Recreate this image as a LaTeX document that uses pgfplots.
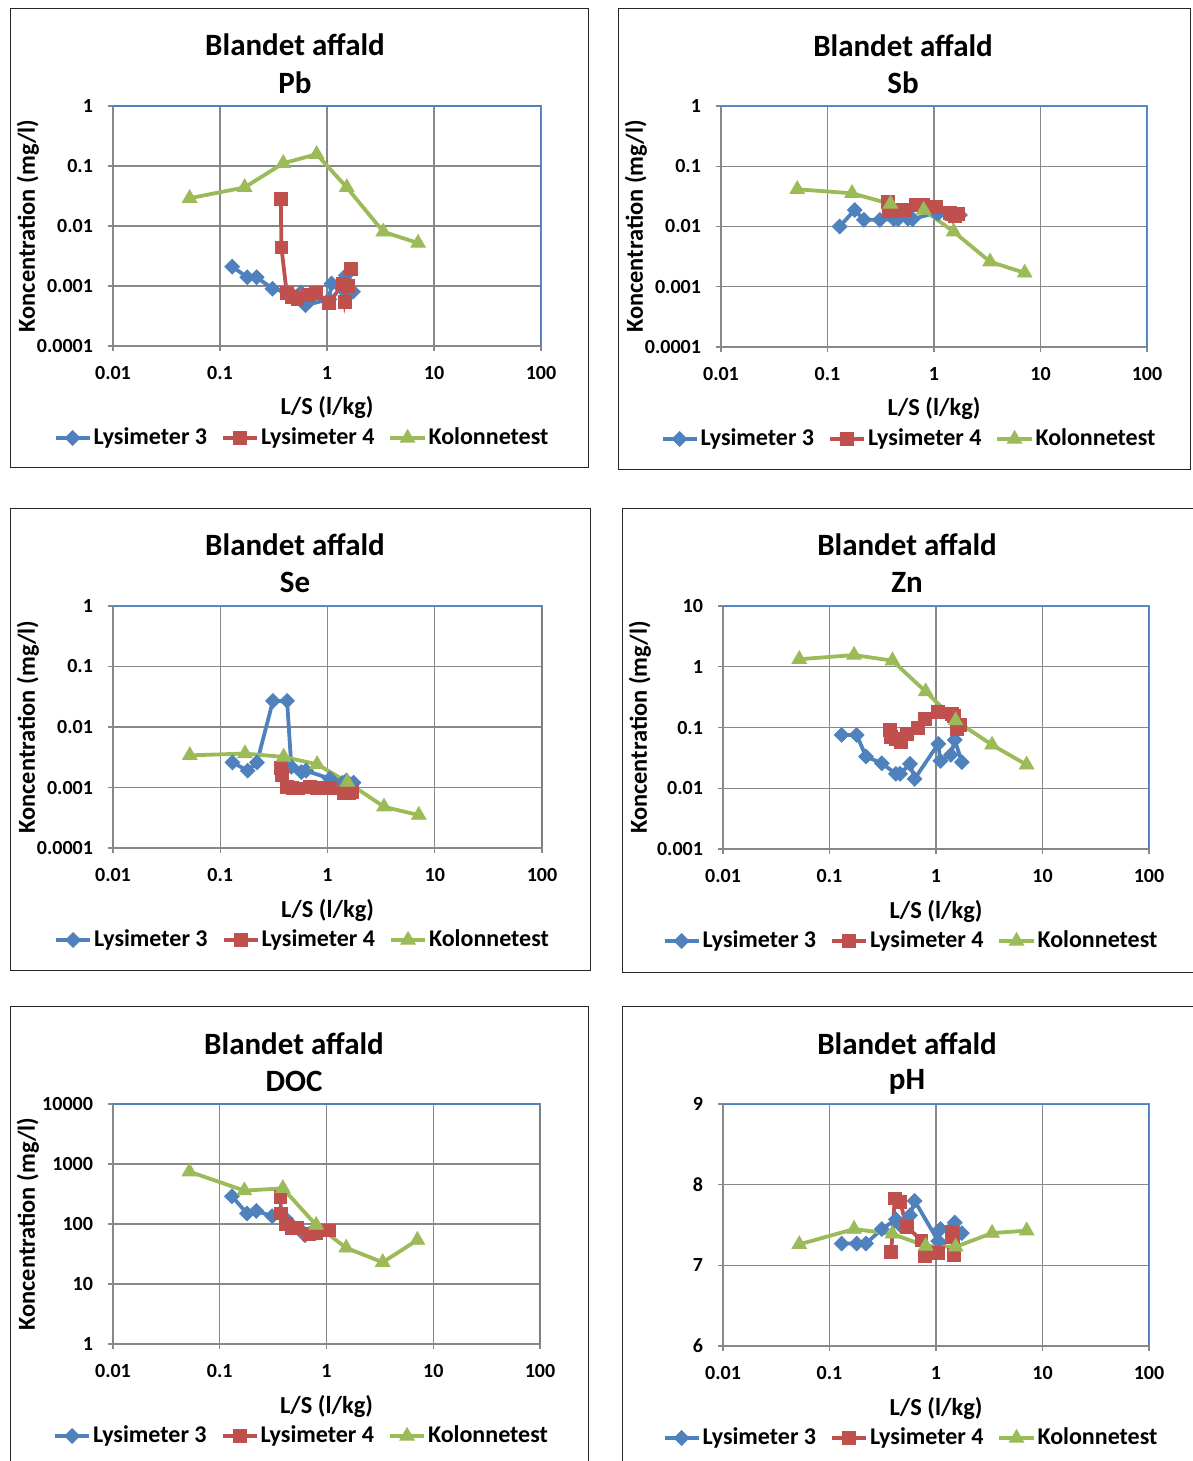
\documentclass[border=0pt]{standalone}
\usepackage{pgfplots}
\pgfplotsset{compat=1.18}
\usepackage{fontspec}
\setmainfont{Carlito}
\definecolor{lysA}{HTML}{4F81BD}
\definecolor{lysB}{HTML}{C0504D}
\definecolor{kol}{HTML}{9BBB59}
\definecolor{gridc}{HTML}{888888}
\definecolor{frameblue}{HTML}{4F81BD}

\pgfplotsset{
  every axis/.append style={
    scale only axis,
    xmode=log, xmin=0.01, xmax=100,
    xtick={0.01,0.1,1,10,100}, xticklabels={0.01,0.1,1,10,100},
    xminorticks=false, yminorticks=false,
    grid=major, major grid style={draw=gridc, line width=0.6pt},
    axis line style={draw=gridc, line width=0.6pt},
    tick style={draw=gridc, line width=0.6pt},
    tick align=outside, major tick length=2.5pt,
    xtick pos=bottom, ytick pos=left,
    /pgf/number format/assume math mode=true,
    tick label style={font=\bfseries\fontsize{10}{12}\selectfont},
    yticklabel style={xshift=-4pt},
    xticklabel style={yshift=-4pt},
    label style={font=\bfseries\fontsize{12.2}{14}\selectfont},
    xlabel={L/S (l/kg)},
    legend columns=3,
    legend style={at={(0.5,0)}, anchor=center, xshift=-12.5pt, yshift=-46pt,
      draw=none, fill=none, font=\bfseries\fontsize{12}{14}\selectfont,
      /tikz/every even column/.append style={column sep=6pt},
      inner sep=0pt, nodes={inner sep=1pt}},
  },
  every axis x label/.style={at={(axis description cs:0.5,0)}, anchor=center, yshift=-31pt},
  every axis y label/.style={at={(axis description cs:0,0.5)}, anchor=center, rotate=90, yshift=42.5pt},
}
\tikzset{
  sA/.style={color=lysA, line width=1.9pt, mark=square*, mark size=2.6pt, mark options={rotate=45, solid, line width=0.4pt}},
  sB/.style={color=lysB, line width=1.9pt, mark=square*, mark size=3.2pt, mark options={solid, line width=0.4pt}},
  sC/.style={color=kol, line width=1.9pt, mark=triangle*, mark size=4.2pt, mark options={solid, line width=0.4pt}},
}
\newcommand{\ttl}[3]{\node[font=\bfseries\fontsize{15.5}{18}\selectfont] at (#1pt,#2pt) {#3};}
\newcommand{\bluetop}{\draw[frameblue,line width=0.6pt] (rel axis cs:0,1) -- (rel axis cs:1,1) -- (rel axis cs:1,0);}

\begin{document}
\begin{tikzpicture}
\useasboundingbox (0,0) rectangle (596.5pt,-730.5pt);
% panel frames
\draw[black!85, line width=0.5pt] (5pt,-4.5pt) rectangle (294pt,-233.5pt);
\draw[black!85, line width=0.5pt] (309pt,-4.5pt) rectangle (595pt,-234.5pt);
\draw[black!85, line width=0.5pt] (5pt,-254pt) rectangle (295pt,-485pt);
\draw[black!85, line width=0.5pt] (311pt,-254pt) rectangle (600pt,-486pt);
\draw[black!85, line width=0.5pt] (5pt,-503pt) rectangle (294pt,-740pt);
\draw[black!85, line width=0.5pt] (311pt,-503pt) rectangle (600pt,-740pt);
% titles
\ttl{147.5}{-22.5}{Blandet affald}\ttl{147.5}{-41.5}{Pb}
\ttl{451.5}{-23}{Blandet affald}\ttl{451.5}{-41.5}{Sb}
\ttl{147.5}{-272.5}{Blandet affald}\ttl{147.5}{-291}{Se}
\ttl{453.5}{-272.5}{Blandet affald}\ttl{453.5}{-291}{Zn}
\ttl{147}{-522}{Blandet affald}\ttl{147}{-540.5}{DOC}
\ttl{453.5}{-522}{Blandet affald}\ttl{453.5}{-541}{pH}

% ---------- Pb ----------
\begin{axis}[ymode=log, ylabel={Koncentration (mg/l)}, at={(56.5pt,-173pt)}, anchor=south west, width=214pt, height=120pt,
  ymin=0.0001, ymax=1, ytick={0.0001,0.001,0.01,0.1,1}, yticklabels={0.0001,0.001,0.01,0.1,1}]
\addplot[sA] coordinates {(0.13,0.0021)(0.18,0.0014)(0.22,0.0014)(0.31,0.0009)(0.42,0.0008)(0.46,0.00075)(0.57,0.00078)(0.63,0.00048)(1.05,0.0006)(1.1,0.0011)(1.38,0.0009)(1.5,0.0015)(1.75,0.0008)};
\addlegendentry{Lysimeter 3}
\addplot[sB] coordinates {(0.37,0.028)(0.375,0.0044)(0.42,0.00077)(0.47,0.00065)(0.53,0.00061)(0.68,0.00071)(0.79,0.00077)(1.05,0.00053)(1.42,0.0011)(1.47,0.00055)(1.58,0.001)(1.68,0.0019)};
\addlegendentry{Lysimeter 4}
\addplot[sC] coordinates {(0.052,0.029)(0.17,0.044)(0.39,0.111)(0.80,0.157)(1.53,0.044)(3.36,0.0080)(7.1,0.0052)};
\addlegendentry{Kolonnetest}
\bluetop
\end{axis}

% ---------- Sb ----------
\begin{axis}[ymode=log, ylabel={Koncentration (mg/l)}, at={(360.5pt,-173.5pt)}, anchor=south west, width=213pt, height=120.5pt,
  ymin=0.0001, ymax=1, ytick={0.0001,0.001,0.01,0.1,1}, yticklabels={0.0001,0.001,0.01,0.1,1}]
\addplot[sA] coordinates {(0.13,0.010)(0.18,0.0188)(0.22,0.0129)(0.31,0.0129)(0.42,0.0133)(0.46,0.0133)(0.57,0.0135)(0.63,0.0133)(1.05,0.017)(1.1,0.0165)(1.38,0.016)(1.5,0.015)(1.75,0.0155)};
\addlegendentry{Lysimeter 3}
\addplot[sB] coordinates {(0.37,0.026)(0.375,0.018)(0.42,0.018)(0.47,0.019)(0.53,0.019)(0.68,0.023)(0.79,0.023)(1.05,0.021)(1.42,0.017)(1.47,0.016)(1.58,0.015)(1.68,0.016)};
\addlegendentry{Lysimeter 4}
\addplot[sC] coordinates {(0.052,0.0415)(0.17,0.0356)(0.39,0.0237)(0.80,0.0188)(1.53,0.0082)(3.36,0.0026)(7.1,0.0017)};
\addlegendentry{Kolonnetest}
\bluetop
\end{axis}

% ---------- Se ----------
\begin{axis}[ymode=log, ylabel={Koncentration (mg/l)}, at={(56.5pt,-424pt)}, anchor=south west, width=214.5pt, height=121pt,
  ymin=0.0001, ymax=1, ytick={0.0001,0.001,0.01,0.1,1}, yticklabels={0.0001,0.001,0.01,0.1,1}]
\addplot[sA] coordinates {(0.13,0.0026)(0.18,0.0019)(0.22,0.0026)(0.31,0.027)(0.42,0.027)(0.46,0.0022)(0.57,0.0018)(0.63,0.0019)(1.05,0.0014)(1.1,0.0013)(1.38,0.0012)(1.5,0.0013)(1.75,0.0012)};
\addlegendentry{Lysimeter 3}
\addplot[sB] coordinates {(0.37,0.0021)(0.375,0.0016)(0.42,0.00103)(0.47,0.001)(0.53,0.00097)(0.68,0.00103)(0.79,0.001)(1.05,0.001)(1.42,0.00082)(1.47,0.0008)(1.58,0.00082)(1.68,0.00085)};
\addlegendentry{Lysimeter 4}
\addplot[sC] coordinates {(0.052,0.0034)(0.17,0.00364)(0.39,0.0032)(0.80,0.00242)(1.53,0.00123)(3.36,0.00048)(7.1,0.00035)};
\addlegendentry{Kolonnetest}
\bluetop
\end{axis}

% ---------- Zn ----------
\begin{axis}[ymode=log, ylabel={Koncentration (mg/l)}, at={(361.5pt,-424.5pt)}, anchor=south west, width=213pt, height=121.5pt,
  ymin=0.001, ymax=10, ytick={0.001,0.01,0.1,1,10}, yticklabels={0.001,0.01,0.1,1,10},
  every axis y label/.append style={yshift=-1pt}]
\addplot[sA] coordinates {(0.13,0.0755)(0.18,0.0755)(0.22,0.0333)(0.31,0.0258)(0.42,0.0173)(0.46,0.0173)(0.57,0.0252)(0.63,0.0143)(1.05,0.0537)(1.1,0.0282)(1.38,0.0354)(1.5,0.0625)(1.75,0.027)};
\addlegendentry{Lysimeter 3}
\addplot[sB] coordinates {(0.37,0.091)(0.375,0.071)(0.42,0.065)(0.47,0.058)(0.53,0.078)(0.68,0.10)(0.79,0.14)(1.05,0.18)(1.42,0.17)(1.47,0.155)(1.58,0.095)(1.68,0.11)};
\addlegendentry{Lysimeter 4}
\addplot[sC] coordinates {(0.052,1.33)(0.17,1.56)(0.39,1.26)(0.80,0.39)(1.53,0.13)(3.36,0.0518)(7.1,0.0243)};
\addlegendentry{Kolonnetest}
\bluetop
\end{axis}

% ---------- DOC ----------
\begin{axis}[ymode=log, ylabel={Koncentration (mg/l)}, at={(56.5pt,-672pt)}, anchor=south west, width=213.5pt, height=120pt,
  ymin=1, ymax=10000, ytick={1,10,100,1000,10000}, yticklabels={1,10,100,1000,10000}]
\addplot[sA] coordinates {(0.13,290)(0.18,150)(0.22,165)(0.31,135)(0.42,120)(0.46,100)(0.57,80)(0.63,65)};
\addlegendentry{Lysimeter 3}
\addplot[sB] coordinates {(0.37,280)(0.375,150)(0.42,100)(0.47,85)(0.53,85)(0.68,68)(0.79,72)(1.05,78)};
\addlegendentry{Lysimeter 4}
\addplot[sC] coordinates {(0.052,745)(0.17,360)(0.39,393)(0.80,96)(1.53,40)(3.36,23)(7.1,54)};
\addlegendentry{Kolonnetest}
\bluetop
\end{axis}

% ---------- pH ----------
\begin{axis}[at={(361.5pt,-673pt)}, anchor=south west, width=213pt, height=121pt,
  ymin=6, ymax=9, ytick={6,7,8,9}, yticklabels={6,7,8,9}]
\addplot[sA] coordinates {(0.13,7.27)(0.18,7.27)(0.22,7.27)(0.31,7.45)(0.42,7.57)(0.46,7.5)(0.57,7.62)(0.63,7.8)(1.05,7.3)(1.1,7.45)(1.38,7.45)(1.5,7.53)(1.75,7.4)};
\addlegendentry{Lysimeter 3}
\addplot[sB] coordinates {(0.38,7.17)(0.41,7.83)(0.46,7.79)(0.53,7.48)(0.73,7.31)(0.79,7.11)(1.05,7.15)(1.41,7.42)(1.44,7.35)(1.46,7.13)};
\addlegendentry{Lysimeter 4}
\addplot[sC] coordinates {(0.052,7.26)(0.17,7.45)(0.39,7.39)(0.80,7.24)(1.53,7.23)(3.36,7.40)(7.1,7.43)};
\addlegendentry{Kolonnetest}
\bluetop
\end{axis}
\end{tikzpicture}
\end{document}
